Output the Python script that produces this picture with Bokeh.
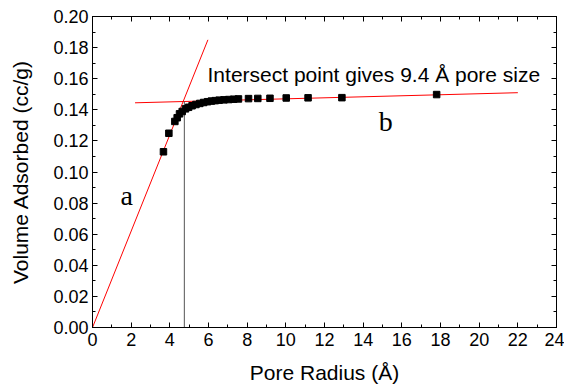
from bokeh.plotting import figure
from bokeh.models import LinearAxis, FixedTicker, NumeralTickFormatter, Range1d
from bokeh.core.properties import value
from bokeh.embed import file_html
from bokeh.resources import INLINE

# data points (pore radius in Å, volume adsorbed in cc/g)
radius = [3.67, 3.95, 4.26, 4.38, 4.50, 4.64, 4.81, 4.97, 5.15, 5.35, 5.55, 5.75,
          5.95, 6.15, 6.35, 6.55, 6.80, 7.05, 7.30, 7.55, 8.07, 8.55, 9.18, 10.02,
          11.15, 12.90, 17.80]
volume = [0.1130, 0.1249, 0.1325, 0.1349, 0.1374, 0.1389, 0.1406, 0.1416, 0.1426,
          0.1434, 0.1441, 0.1447, 0.1452, 0.1456, 0.1459, 0.1462, 0.1464, 0.1466,
          0.1468, 0.1470, 0.1472, 0.1473, 0.1474, 0.1476, 0.1477, 0.1478, 0.1498]

# fitted lines
line_a_x = [0.0, 5.97]
line_a_y = [0.0, 0.185]
line_b_x = [2.2, 22.0]
line_b_y = [0.1445, 0.1510]
# intersection marker
intersect_x = [4.75, 4.75]
intersect_y = [0.0, 0.1455]

x_ticks = list(range(0, 25, 2))
x_minor = list(range(0, 25, 1))
y_ticks = [round(i * 0.02, 2) for i in range(11)]
y_minor = [round(i * 0.01, 2) for i in range(21)]

annotation = "Intersect point gives 9.4 Å pore size"
label_a = "a"
label_b = "b"

FONT = "Liberation Sans"

p = figure(width=564, height=387, x_range=Range1d(0, 24), y_range=Range1d(0, 0.2),
           output_backend="svg", toolbar_location=None,
           min_border_left=92, min_border_right=8, min_border_top=16, min_border_bottom=60)
p.xgrid.visible = False
p.ygrid.visible = False
p.outline_line_color = "black"
p.outline_line_alpha = 1.0
p.background_fill_color = "white"
p.border_fill_color = "white"

xt = FixedTicker(ticks=x_ticks, minor_ticks=x_minor)
yt = FixedTicker(ticks=y_ticks, minor_ticks=y_minor)

def style_axis(ax):
    ax.axis_line_color = "black"
    ax.major_tick_line_color = "black"
    ax.minor_tick_line_color = "black"
    ax.major_tick_in = 5
    ax.major_tick_out = 0
    ax.minor_tick_in = 3
    ax.minor_tick_out = 0
    ax.major_label_text_font = FONT
    ax.major_label_text_font_size = "18px"
    ax.major_label_text_color = "black"
    ax.axis_label_text_font = FONT
    ax.axis_label_text_font_size = "21px"
    ax.axis_label_text_font_style = "normal"
    ax.axis_label_text_color = "black"

xa = p.xaxis[0]
xa.ticker = xt
xa.axis_label = "Pore Radius (Å)"
style_axis(xa)
xa.major_label_standoff = 5
xa.axis_label_standoff = 12

ya = p.yaxis[0]
ya.ticker = yt
ya.formatter = NumeralTickFormatter(format="0.00")
ya.axis_label = "Volume Adsorbed (cc/g)"
style_axis(ya)
ya.major_label_standoff = 4
ya.axis_label_standoff = 18

top = LinearAxis(ticker=xt, major_label_standoff=0,
                 major_label_overrides={t: "" for t in x_ticks})
style_axis(top)
right = LinearAxis(ticker=yt, major_label_standoff=0,
                   major_label_overrides={t: "" for t in y_ticks})
style_axis(right)
p.add_layout(top, "above")
p.add_layout(right, "right")

p.line(line_a_x, line_a_y, line_color="red", line_width=1)
p.line(line_b_x, line_b_y, line_color="red", line_width=1)
p.line(intersect_x, intersect_y, line_color="#555555", line_width=1)
p.scatter(radius, volume, marker="square", size=6.5, fill_color="black", line_color="black")

p.text(x=[5.95], y=[0.163], text=[annotation], text_font=value(FONT),
       text_font_size="21px", text_baseline="alphabetic", text_align="left", text_color="black")
p.text(x=[1.45], y=[0.085], text=[label_a], text_font=value("Liberation Serif"),
       text_font_size="28px", text_baseline="alphabetic", text_align="left", text_color="black")
p.text(x=[14.8], y=[0.1327], text=[label_b], text_font=value("Liberation Serif"),
       text_font_size="28px", text_baseline="alphabetic", text_align="left", text_color="black")

open("out.html", "w").write(file_html(p, INLINE))
